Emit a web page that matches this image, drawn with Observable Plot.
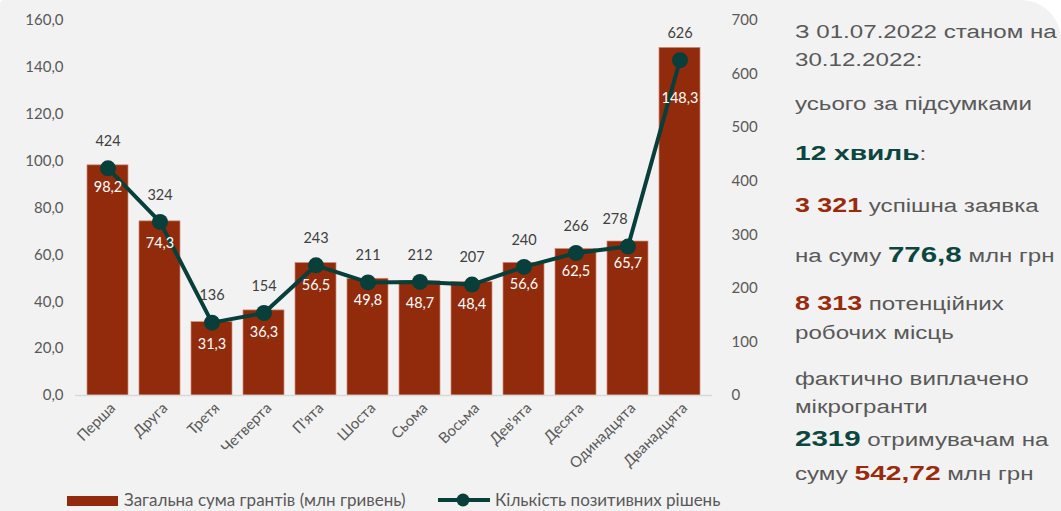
<!DOCTYPE html>
<html>
<head>
<meta charset="utf-8">
<script src="https://cdn.jsdelivr.net/npm/d3@7"></script>
<script src="https://cdn.jsdelivr.net/npm/@observablehq/plot@0.6"></script>
<style>
  html, body { margin: 0; padding: 0; background: #ffffff; }
  #card { position: relative; width: 1061px; height: 511px; background: #f2f2f2; border-radius: 4px 40px 0 0; overflow: hidden; }
  #chart { position: absolute; left: 0; top: 0; }
  #legend { position: absolute; left: 0; top: 490px; width: 780px; height: 20px; font-family: Lato, "Open Sans", sans-serif; font-size: 17px; color: #595959; }
  .lg { position: absolute; top: 0; line-height: 20px; white-space: nowrap; }
  #panel { position: absolute; left: 795px; top: 0; width: 200px; height: 511px; font-family: "Liberation Sans", Arial, sans-serif; font-size: 18px; color: #595959; transform: scaleX(1.34); transform-origin: 0 0; }
  .ln { position: absolute; left: 0; line-height: 1; white-space: nowrap; }
  .g { color: #0b4640; font-weight: bold; }
  .r { color: #9a2a0b; font-weight: bold; }
</style>
</head>
<body>
<div id="card">
  <div id="chart"></div>
  <div id="legend"></div>
  <div id="panel">
    <div class="ln" style="top:23px">З 01.07.2022 станом на</div>
    <div class="ln" style="top:51px">30.12.2022:</div>
    <div class="ln" style="top:95px">усього за підсумками</div>
    <div class="ln" style="top:142px"><span class="g" style="font-size:21px">12 хвиль</span>:</div>
    <div class="ln" style="top:195px"><span class="r" style="font-size:20px">3 321</span> успішна заявка</div>
    <div class="ln" style="top:244px">на суму <span class="g" style="font-size:22px">776,8</span> млн грн</div>
    <div class="ln" style="top:293px"><span class="r" style="font-size:20px">8 313</span> потенційних</div>
    <div class="ln" style="top:324px">робочих місць</div>
    <div class="ln" style="top:370px">фактично виплачено</div>
    <div class="ln" style="top:398px">мікрогранти</div>
    <div class="ln" style="top:428px"><span class="g" style="font-size:22px">2319</span> отримувачам на</div>
    <div class="ln" style="top:462px">суму <span class="r" style="font-size:21px">542,72</span> млн грн</div>
  </div>
</div>
<script>
const waves = ["Перша","Друга","Третя","Четверта","П'ята","Шоста","Сьома","Восьма","Дев'ята","Десята","Одинадцята","Дванадцята"];
const sums = [98.2, 74.3, 31.3, 36.3, 56.5, 49.8, 48.7, 48.4, 56.6, 62.5, 65.7, 148.3];
const counts = [424, 324, 136, 154, 243, 211, 212, 207, 240, 266, 278, 626];
const leftTicks = [0, 20, 40, 60, 80, 100, 120, 140, 160];
const rightTicks = [0, 100, 200, 300, 400, 500, 600, 700];

const barColor = "#922b0b";
const lineColor = "#083f3a";
const leftMax = 160, rightMax = 700;
const toLeft = v => v * leftMax / rightMax;
const fmt = v => v.toFixed(1).replace(".", ",");

const data = waves.map((w, i) => ({wave: w, sum: sums[i], count: counts[i], i}));
const last = data.length - 1;

const chart = Plot.plot({
  width: 780,
  height: 480,
  marginTop: 20,
  marginBottom: 85,
  marginLeft: 75,
  marginRight: 68,
  style: {background: "transparent", fontFamily: "Lato, 'Open Sans', sans-serif", fontSize: "15px", color: "#595959"},
  x: {domain: waves, padding: 0.22, label: null},
  y: {domain: [0, leftMax], label: null},
  marks: [
    Plot.axisY(leftTicks, {anchor: "left", tickSize: 0, tickPadding: 12, tickFormat: fmt, fontSize: 15, fill: "#595959", label: null}),
    Plot.axisY(rightTicks.map(toLeft), {anchor: "right", tickSize: 0, tickPadding: 19, tickFormat: d => String(Math.round(d * rightMax / leftMax)), fontSize: 15, fill: "#595959", textAnchor: "start", label: null}),
    Plot.axisX({tickRotate: -45, tickSize: 0, tickPadding: 10, dx: 5, fontSize: 15, fill: "#595959", label: null}),
    Plot.barY(data, {x: "wave", y: "sum", fill: barColor, stroke: "#d08c78", strokeWidth: 0.7}),
    Plot.ruleY([0], {stroke: "#d9d9d9", strokeWidth: 1.5}),
    Plot.line(data, {x: "wave", y: d => toLeft(d.count), stroke: lineColor, strokeWidth: 4}),
    Plot.dot(data, {x: "wave", y: d => toLeft(d.count), r: 8, fill: lineColor}),
    Plot.text(data.filter(d => d.i !== last), {x: "wave", y: "sum", text: d => fmt(d.sum), dy: 22, fill: "white", fontSize: 14.5}),
    Plot.text(data.filter(d => d.i === last), {x: "wave", y: "sum", text: d => fmt(d.sum), dy: 50, fill: "white", fontSize: 14.5}),
    Plot.text(data.filter(d => d.i !== last - 1), {x: "wave", y: d => toLeft(d.count), text: d => String(d.count), dy: -27, fill: "#404040", fontSize: 14.5}),
    Plot.text(data.filter(d => d.i === last - 1), {x: "wave", y: d => toLeft(d.count), text: d => String(d.count), dy: -27, dx: -13, fill: "#404040", fontSize: 14.5})
  ]
});
document.getElementById("chart").appendChild(chart);

// legend
const lg = document.getElementById("legend");
lg.innerHTML = `
  <div class="lg" style="left:67px"><span style="display:inline-block;width:51px;height:10px;background:${barColor};vertical-align:middle;margin-top:-2px"></span></div>
  <div class="lg" style="left:124px">Загальна сума грантів (млн гривень)</div>
  <div class="lg" style="left:437px"><svg width="54" height="20" style="vertical-align:top"><line x1="1" y1="10" x2="53" y2="10" stroke="${lineColor}" stroke-width="4"/><circle cx="26" cy="10" r="6.5" fill="${lineColor}"/></svg></div>
  <div class="lg" style="left:495px">Кількість позитивних рішень</div>`;
</script>
</body>
</html>
